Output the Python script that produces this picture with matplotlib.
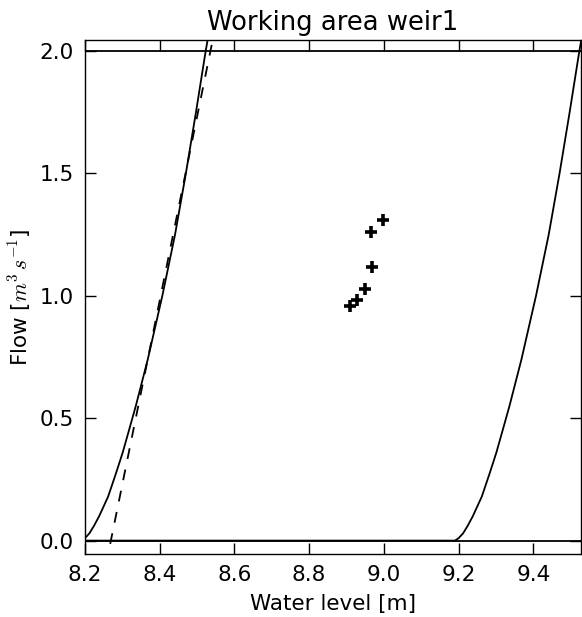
import numpy as np
import matplotlib
matplotlib.use('Agg')
import matplotlib.pyplot as plt

# rating curves: water level [m] vs flow [m3/s]
lower_level = [8.190, 8.200, 8.212, 8.224, 8.238, 8.262, 8.283, 8.301, 8.318, 8.336,
               8.368, 8.407, 8.441, 8.470, 8.497, 8.523, 8.531]
lower_flow = [0.0, 0.01, 0.03, 0.06, 0.10, 0.18, 0.275, 0.36, 0.452, 0.55,
              0.74, 1.0, 1.25, 1.50, 1.75, 2.0, 2.07]

upper_level = [8.200, 9.190, 9.200, 9.212, 9.224, 9.238, 9.262, 9.283, 9.301, 9.318, 9.336,
               9.368, 9.407, 9.441, 9.470, 9.497, 9.523, 9.531]
upper_flow = [0.0, 0.0, 0.01, 0.03, 0.06, 0.10, 0.18, 0.275, 0.36, 0.452, 0.55,
              0.74, 1.0, 1.25, 1.50, 1.75, 2.0, 2.07]

# linear approximation (dashed)
lin_level = [8.256, 8.549]
lin_flow = [-0.1, 2.1]

# limits of the working area
flow_min = 0.0
flow_max = 2.0

# measurements
meas_level = [8.909, 8.928, 8.950, 8.969, 8.966, 8.998]
meas_flow = [0.958, 0.982, 1.026, 1.116, 1.261, 1.312]

plt.rcParams['mathtext.fontset'] = 'cm'
plt.rcParams['font.family'] = 'DejaVu Sans'
plt.rcParams['font.size'] = 15.5

fig = plt.figure(figsize=(5.82, 6.17), dpi=100)
ax = fig.add_axes([0.146, 0.102, 0.852, 0.833])

ax.plot(lower_level, lower_flow, color='k', lw=1.3)
ax.plot(upper_level, upper_flow, color='k', lw=1.3)
ax.plot(lin_level, lin_flow, color='k', lw=1.3, linestyle='--', dashes=(6, 6))
ax.axhline(flow_min, color='k', lw=1.3)
ax.axhline(flow_max, color='k', lw=1.3)
ax.plot(meas_level, meas_flow, linestyle='none', marker='+', color='k',
        markersize=9, markeredgewidth=2.6)

ax.set_xlim(8.2, 9.527)
ax.set_ylim(-0.055, 2.045)
ax.set_xticks([8.2, 8.4, 8.6, 8.8, 9.0, 9.2, 9.4])
ax.set_yticks([0.0, 0.5, 1.0, 1.5, 2.0])
ax.tick_params(direction='in', top=True, right=True, length=8, width=1, pad=8)
for s in ax.spines.values():
    s.set_linewidth(1.0)

ax.set_title('Working area weir1', pad=7)
ax.set_xlabel('Water level [m]', labelpad=6)
ax.set_ylabel(r'Flow [$m^3\,s^{-1}$]', labelpad=5)

fig.savefig('out.png', dpi=100, facecolor='white')
